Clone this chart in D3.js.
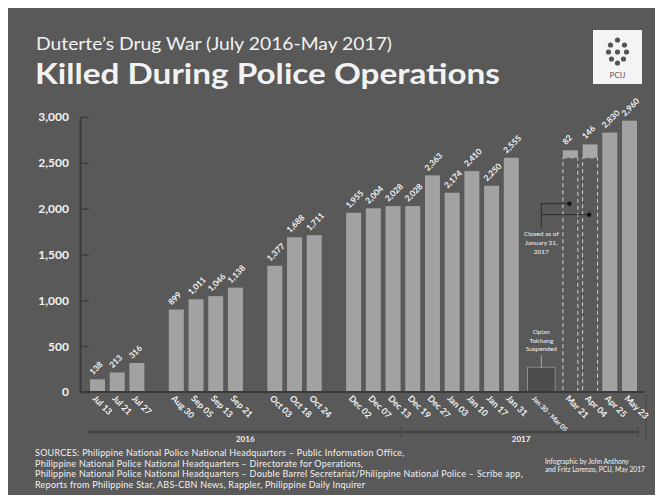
<html>
<head>
<meta charset="utf-8">
<title>Killed During Police Operations</title>
<script src="https://cdn.jsdelivr.net/npm/d3@7"></script>
<style>
  body { margin: 0; background: #fff; }
  text { font-family: "Lato", "Open Sans", sans-serif; fill: #f2f2f2; }
</style>
</head>
<body>
<div id="chart"></div>
<script>
// report dates and cumulative killed (PNP reports), before suspension
var dates = ["Jul 13", "Jul 21", "Jul 27",
             "Aug 30", "Sep 05", "Sep 13", "Sep 21",
             "Oct 03", "Oct 18", "Oct 24",
             "Dec 02", "Dec 07", "Dec 13", "Dec 19", "Dec 27", "Jan 03", "Jan 10", "Jan 17", "Jan 31"];
var killed = [138, 213, 316,
              899, 1011, 1046, 1138,
              1377, 1688, 1711,
              1955, 2004, 2028, 2028, 2363, 2174, 2410, 2250, 2555];
var groupOf = [0, 0, 0, 1, 1, 1, 1, 2, 2, 2, 3, 3, 3, 3, 3, 3, 3, 3, 3];

// Oplan Tokhang suspended
var suspendLabel = "Jan 30 - Mar 05";
var suspendValue = 270;

// after resumption: closed cases (as of Jan 31) plus new kills
var closedBase = 2555;
var resumedDates = ["Mar 21", "Apr 04"];
var resumedNew = [82, 146];

var laterDates = ["Apr 25", "May 23"];
var laterKilled = [2830, 2960];

var yTicks = [0, 500, 1000, 1500, 2000, 2500, 3000];

var sources = [
  "SOURCES: Philippine National Police National Headquarters \u2013 Public Information Office,",
  "Philippine National Police National Headquarters \u2013 Directorate for Operations,",
  "Philippine National Police National Headquarters \u2013 Double Barrel Secretariat/Philippine National Police \u2013 Scribe app,",
  "Reports from Philippine Star, ABS-CBN News, Rappler, Philippine Daily Inquirer"
];
var credit = ["Infographic by John Anthony", "and Fritz Lorenzo, PCIJ, May 2017"];

// ---- slots along the x axis (gaps between groups) ----
var slots = [];
dates.forEach(function(d, i) {
  if (i > 0 && groupOf[i] !== groupOf[i - 1]) slots.push("gap" + groupOf[i]);
  slots.push(d);
});
slots.push("susp-a", "susp-b");
resumedDates.forEach(function(d) { slots.push(d); });
laterDates.forEach(function(d) { slots.push(d); });

var W = 663, H = 499;
var svg = d3.select("#chart").append("svg")
  .attr("width", W).attr("height", H);

svg.append("rect")
  .attr("x", 8).attr("y", 8).attr("width", 647).attr("height", 487)
  .attr("fill", "#595959");

var x = d3.scaleBand().domain(slots).range([90, 637]).paddingInner(0.24).paddingOuter(0);
var y = d3.scaleLinear().domain([0, 3000]).range([392, 117]);

// titles
svg.append("text").attr("x", 36).attr("y", 50)
  .attr("font-size", 17).attr("font-weight", 400)
  .attr("textLength", 356).attr("lengthAdjust", "spacingAndGlyphs")
  .text("Duterte\u2019s Drug War (July 2016-May 2017)");
svg.append("text").attr("x", 35).attr("y", 84)
  .attr("font-size", 29).attr("font-weight", 700)
  .attr("textLength", 465).attr("lengthAdjust", "spacingAndGlyphs")
  .text("Killed During Police Operations");

// logo
var logo = svg.append("g").attr("transform", "translate(593,30)");
logo.append("rect").attr("width", 49).attr("height", 54).attr("fill", "#f4f4f4");
[[0, -12], [-7, -7], [7, -7], [-9, 0], [9, 0], [0, 0], [-6, 7], [6, 7], [0, 11]].forEach(function(p) {
  logo.append("circle").attr("cx", 24.5 + p[0]).attr("cy", 22 + p[1]).attr("r", 2.6).attr("fill", "#555");
});
logo.append("text").attr("x", 24.5).attr("y", 48).attr("text-anchor", "middle")
  .attr("font-family", "DejaVu Serif").attr("font-size", 8).style("fill", "#555").text("PCIJ");

// y axis
var yAxis = svg.append("g").attr("transform", "translate(80,0)")
  .call(d3.axisLeft(y).tickValues(yTicks).tickFormat(d3.format(",")).tickSizeInner(-9).tickSizeOuter(0).tickPadding(11));
yAxis.select(".domain").attr("stroke", "#3a3a3a").attr("stroke-width", 2);
yAxis.selectAll(".tick line").attr("stroke", "#3e3e3e").attr("stroke-width", 1.5);
yAxis.selectAll(".tick text").attr("font-size", 12).attr("font-weight", 700).attr("fill", "#f2f2f2")
  .style("font-family", "Lato, sans-serif");

// main bars
var bars = svg.selectAll(".bar").data(dates).enter().append("g").attr("class", "bar");
bars.append("rect")
  .attr("x", function(d) { return x(d); })
  .attr("y", function(d, i) { return y(killed[i]); })
  .attr("width", x.bandwidth())
  .attr("height", function(d, i) { return y(0) - y(killed[i]); })
  .attr("fill", "#a2a2a2");
bars.append("text")
  .attr("transform", function(d, i) { return "translate(" + (x(d) + 3) + "," + (y(killed[i]) - 4) + ") rotate(-45)"; })
  .attr("font-size", 8.3).attr("font-weight", 700)
  .text(function(d, i) { return d3.format(",")(killed[i]); });

// suspension box
var sx0 = x("susp-a") + 4, sx1 = x("susp-b") + x.bandwidth() - 3;
svg.append("rect")
  .attr("x", sx0).attr("y", y(suspendValue))
  .attr("width", sx1 - sx0).attr("height", y(0) - y(suspendValue))
  .attr("fill", "#4c4c4c").attr("stroke", "#8c8c8c").attr("stroke-width", 1);
var smid = (sx0 + sx1) / 2;
svg.append("line").attr("x1", smid).attr("x2", smid).attr("y1", y(suspendValue) - 12).attr("y2", y(suspendValue))
  .attr("stroke", "#bbb").attr("stroke-width", 0.8);
["Oplan", "Tokhang", "Suspended"].forEach(function(t, i) {
  svg.append("text").attr("x", smid).attr("y", y(suspendValue) - 33 + i * 8.5)
    .attr("text-anchor", "middle").attr("font-size", 6.5).text(t);
});

// resumed bars: dashed closed base + new kills cap
var res = svg.selectAll(".res").data(resumedDates).enter().append("g").attr("class", "res");
res.append("rect")
  .attr("x", function(d) { return x(d); })
  .attr("y", y(closedBase))
  .attr("width", x.bandwidth())
  .attr("height", y(0) - y(closedBase))
  .attr("fill", "none").attr("stroke", "#d0d0d0").attr("stroke-width", 1)
  .attr("stroke-dasharray", "4,3");
res.append("rect")
  .attr("x", function(d) { return x(d); })
  .attr("y", function(d, i) { return y(closedBase + resumedNew[i]); })
  .attr("width", x.bandwidth())
  .attr("height", function(d, i) { return y(closedBase) - y(closedBase + resumedNew[i]); })
  .attr("fill", "#a8a8a8");
res.append("text")
  .attr("transform", function(d, i) { return "translate(" + (x(d) + 3) + "," + (y(closedBase + resumedNew[i]) - 5) + ") rotate(-45)"; })
  .attr("font-size", 8.3).attr("font-weight", 700)
  .text(function(d, i) { return resumedNew[i]; });

// "closed as of" pointer
var px = smid;
var dotY = [y(2055), y(1935)];
res.append("circle")
  .attr("cx", function(d) { return x(d) + x.bandwidth() / 2 - 1; })
  .attr("cy", function(d, i) { return dotY[i]; })
  .attr("r", 2.2).attr("fill", "#111");
res.append("line")
  .attr("x1", px).attr("x2", function(d) { return x(d) + x.bandwidth() / 2 - 1; })
  .attr("y1", function(d, i) { return dotY[i]; }).attr("y2", function(d, i) { return dotY[i]; })
  .attr("stroke", "#222").attr("stroke-width", 0.8);
svg.append("line").attr("x1", px).attr("x2", px).attr("y1", dotY[0]).attr("y2", dotY[1] + 13)
  .attr("stroke", "#222").attr("stroke-width", 0.8);
["Closed as of", "January 31,", "2017"].forEach(function(t, i) {
  svg.append("text").attr("x", px).attr("y", dotY[1] + 21 + i * 9)
    .attr("text-anchor", "middle").attr("font-size", 6.5).text(t);
});

// later bars
var later = svg.selectAll(".later").data(laterDates).enter().append("g").attr("class", "later");
later.append("rect")
  .attr("x", function(d) { return x(d); })
  .attr("y", function(d, i) { return y(laterKilled[i]); })
  .attr("width", x.bandwidth())
  .attr("height", function(d, i) { return y(0) - y(laterKilled[i]); })
  .attr("fill", "#a2a2a2");
later.append("text")
  .attr("transform", function(d, i) { return "translate(" + (x(d) + 3) + "," + (y(laterKilled[i]) - 4) + ") rotate(-45)"; })
  .attr("font-size", 8.3).attr("font-weight", 700)
  .text(function(d, i) { return d3.format(",")(laterKilled[i]); });

// baseline
svg.append("line").attr("x1", 80).attr("x2", 645).attr("y1", y(0)).attr("y2", y(0))
  .attr("stroke", "#3a3a3a").attr("stroke-width", 2);
svg.append("line").attr("x1", 646).attr("x2", 646).attr("y1", y(0) + 2).attr("y2", 440)
  .attr("stroke", "#4a4a4a").attr("stroke-width", 1.2);

// x labels
var xLabels = dates.concat([suspendLabel]).concat(resumedDates).concat(laterDates);
var xKeys = dates.concat(["susp-a"]).concat(resumedDates).concat(laterDates);
svg.selectAll(".xl").data(xLabels).enter().append("text")
  .attr("class", "xl")
  .attr("transform", function(d, i) {
    var k = xKeys[i];
    var off = k === "susp-a" ? 8 : 2;
    return "translate(" + (x(k) + off) + "," + (y(0) + 7) + ") rotate(45)";
  })
  .attr("font-size", function(d, i) { return xKeys[i] === "susp-a" ? 6.8 : 8.8; })
  .attr("font-weight", 700)
  .text(function(d) { return d; });

// year brackets
var yr = [
  { label: "2016", from: dates[0], to: dates[12] },
  { label: "2017", from: dates[13], to: laterDates[1] }
];
var yb = svg.selectAll(".yr").data(yr).enter().append("g");
yb.append("line")
  .attr("x1", function(d) { return x(d.from) - 2; })
  .attr("x2", function(d) { return x(d.to) + x.bandwidth() + 1; })
  .attr("y1", 432).attr("y2", 432)
  .attr("stroke", "#444").attr("stroke-width", 2.5);
yb.append("line")
  .attr("x1", function(d) { return x(d.to) + x.bandwidth() + 1; })
  .attr("x2", function(d) { return x(d.to) + x.bandwidth() + 1; })
  .attr("y1", 427).attr("y2", 437)
  .attr("stroke", "#444").attr("stroke-width", 1.2);
yb.append("text")
  .attr("x", function(d) { return (x(d.from) + x(d.to) + x.bandwidth()) / 2; })
  .attr("y", 442).attr("text-anchor", "middle")
  .attr("font-size", 8).attr("font-weight", 700)
  .text(function(d) { return d.label; });

// sources
svg.selectAll(".src").data(sources).enter().append("text")
  .attr("x", 35).attr("y", function(d, i) { return 456 + i * 10.5; })
  .attr("font-size", 9).attr("letter-spacing", 0.25).text(function(d) { return d; });
svg.selectAll(".cr").data(credit).enter().append("text")
  .attr("x", 545).attr("y", function(d, i) { return 464 + i * 8; })
  .attr("font-size", 6.7).text(function(d) { return d; });
</script>
</body>
</html>
